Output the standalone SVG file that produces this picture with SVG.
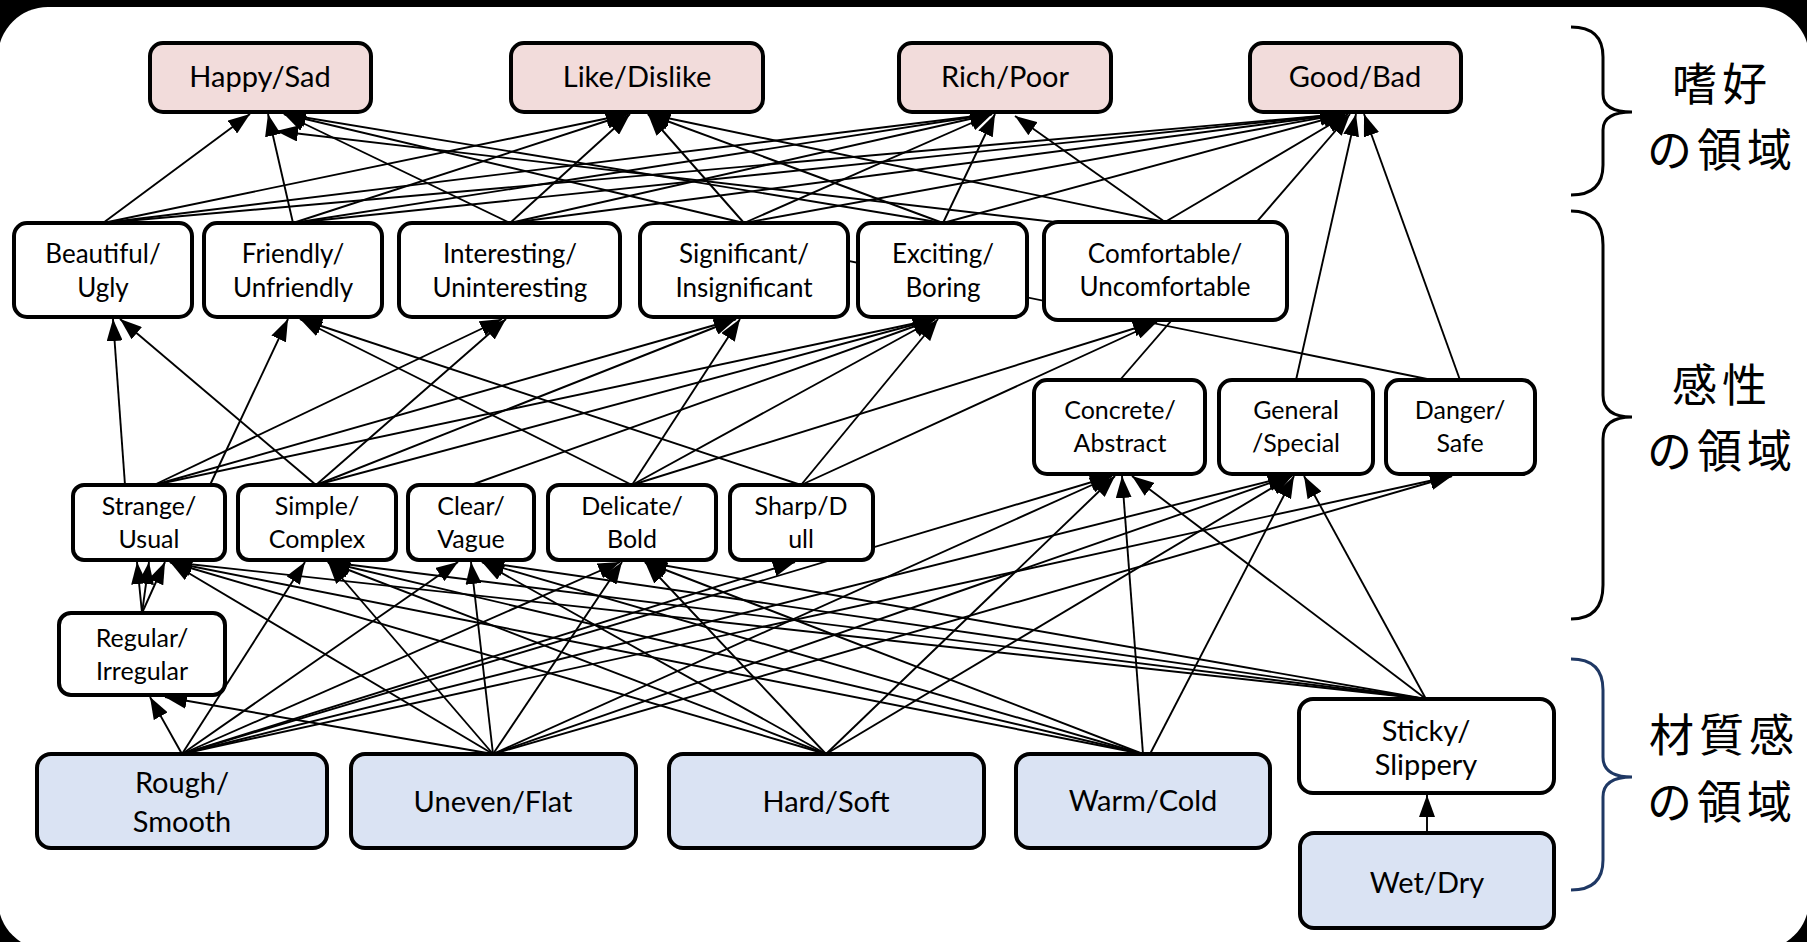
<svg xmlns="http://www.w3.org/2000/svg" width="1807" height="942" viewBox="0 0 1807 942">
<style>
.box{stroke:#000;stroke-width:4;fill:#fff}
.pink{fill:#F2DCDB}
.blue{fill:#DAE3F3}
.t{font-family:Lato,'Liberation Sans',sans-serif;fill:#000;text-anchor:middle}
.t1{font-size:29px}
.t2{font-size:26px}
.t3{font-size:25px}
.t4{font-size:29px}
.cj{font-family:'Noto Sans CJK JP',sans-serif;font-size:45px;letter-spacing:5px;fill:#000;text-anchor:middle}
#edges line{stroke:#000;stroke-width:1.9;marker-end:url(#ah)}
#edges line.plain{marker-end:none}
.brace{fill:none;stroke:#000;stroke-width:3}
</style>
<defs>
<marker id="ah" markerUnits="userSpaceOnUse" markerWidth="22" markerHeight="16" refX="22" refY="8" orient="auto">
<path d="M0,0 L22,8 L0,16 Z" fill="#000"/>
</marker>
</defs>
<rect x="0" y="0" width="1807" height="942" fill="#000"/>
<rect x="-2" y="7" width="1811" height="943" rx="50" fill="#fff"/>

<g id="edges">
<line x1="103" y1="223" x2="250" y2="114"/>
<line x1="103" y1="223" x2="628" y2="114"/>
<line x1="103" y1="223" x2="992" y2="114"/>
<line x1="103" y1="223" x2="1342" y2="114"/>
<line x1="293" y1="223" x2="268" y2="114"/>
<line x1="293" y1="223" x2="628" y2="114"/>
<line x1="293" y1="223" x2="992" y2="114"/>
<line x1="293" y1="223" x2="1342" y2="114"/>
<line x1="510" y1="223" x2="284" y2="114"/>
<line x1="510" y1="223" x2="630" y2="114"/>
<line x1="510" y1="223" x2="992" y2="114"/>
<line x1="510" y1="223" x2="1342" y2="114"/>
<line x1="744" y1="223" x2="284" y2="114"/>
<line x1="744" y1="223" x2="648" y2="114"/>
<line x1="744" y1="223" x2="992" y2="114"/>
<line x1="744" y1="223" x2="1342" y2="114"/>
<line x1="943" y1="223" x2="284" y2="114"/>
<line x1="943" y1="223" x2="648" y2="114"/>
<line x1="943" y1="223" x2="995" y2="114"/>
<line x1="943" y1="223" x2="1345" y2="114"/>
<line x1="1055" y1="222" x2="276" y2="131"/>
<line x1="1165" y1="222" x2="648" y2="114"/>
<line x1="1165" y1="222" x2="1015" y2="116"/>
<line x1="1165" y1="222" x2="1348" y2="114"/>
<line x1="1120" y1="380" x2="1350" y2="114"/>
<line x1="1296" y1="380" x2="1356" y2="114"/>
<line x1="1460" y1="380" x2="1364" y2="114"/>
<line class="plain" x1="1432" y1="380" x2="790" y2="249"/>
<line x1="125" y1="485" x2="113" y2="319"/>
<line x1="316" y1="485" x2="120" y2="319"/>
<line x1="210" y1="485" x2="288" y2="319"/>
<line x1="632" y1="485" x2="300" y2="319"/>
<line x1="801" y1="485" x2="300" y2="319"/>
<line x1="154" y1="485" x2="502" y2="319"/>
<line x1="316" y1="485" x2="506" y2="319"/>
<line x1="154" y1="485" x2="736" y2="319"/>
<line x1="316" y1="485" x2="736" y2="319"/>
<line x1="632" y1="485" x2="740" y2="319"/>
<line x1="154" y1="485" x2="935" y2="319"/>
<line x1="316" y1="485" x2="935" y2="319"/>
<line x1="471" y1="485" x2="935" y2="319"/>
<line x1="632" y1="485" x2="935" y2="319"/>
<line x1="801" y1="485" x2="938" y2="319"/>
<line x1="632" y1="485" x2="1155" y2="322"/>
<line x1="801" y1="485" x2="1157" y2="322"/>
<line x1="142" y1="613" x2="137" y2="562"/>
<line x1="142" y1="613" x2="149" y2="562"/>
<line x1="142" y1="613" x2="165" y2="562"/>
<line x1="182" y1="754" x2="150" y2="697"/>
<line x1="493" y1="754" x2="165" y2="697"/>
<line x1="182" y1="754" x2="305" y2="562"/>
<line x1="182" y1="754" x2="458" y2="562"/>
<line x1="182" y1="754" x2="620" y2="562"/>
<line x1="182" y1="754" x2="795" y2="562"/>
<line x1="182" y1="754" x2="1112" y2="476"/>
<line x1="182" y1="754" x2="1290" y2="476"/>
<line x1="182" y1="754" x2="1452" y2="476"/>
<line x1="493" y1="754" x2="170" y2="562"/>
<line x1="493" y1="754" x2="328" y2="562"/>
<line x1="493" y1="754" x2="471" y2="562"/>
<line x1="493" y1="754" x2="622" y2="562"/>
<line x1="493" y1="754" x2="1112" y2="476"/>
<line x1="493" y1="754" x2="1290" y2="476"/>
<line x1="493" y1="754" x2="1452" y2="476"/>
<line x1="826" y1="754" x2="170" y2="562"/>
<line x1="826" y1="754" x2="328" y2="562"/>
<line x1="826" y1="754" x2="482" y2="562"/>
<line x1="826" y1="754" x2="645" y2="562"/>
<line x1="826" y1="754" x2="1115" y2="476"/>
<line x1="826" y1="754" x2="1292" y2="476"/>
<line x1="1143" y1="754" x2="170" y2="562"/>
<line x1="1143" y1="754" x2="328" y2="562"/>
<line x1="1143" y1="754" x2="482" y2="562"/>
<line x1="1143" y1="754" x2="645" y2="562"/>
<line x1="1143" y1="754" x2="1122" y2="476"/>
<line x1="1150" y1="754" x2="1294" y2="476"/>
<line x1="1426" y1="699" x2="170" y2="562"/>
<line x1="1426" y1="699" x2="328" y2="562"/>
<line x1="1426" y1="699" x2="482" y2="562"/>
<line x1="1426" y1="699" x2="645" y2="562"/>
<line x1="1426" y1="699" x2="1132" y2="476"/>
<line x1="1426" y1="699" x2="1304" y2="476"/>
<line x1="1427" y1="833" x2="1427" y2="795"/>
</g>

<g id="happy"><rect class="box pink" x="150" y="43" width="221" height="69" rx="13"/><text class="t t1" x="260" y="87">Happy/Sad</text></g>
<g id="like"><rect class="box pink" x="511" y="43" width="252" height="69" rx="13"/><text class="t t1" x="637" y="87">Like/Dislike</text></g>
<g id="rich"><rect class="box pink" x="899" y="43" width="212" height="69" rx="13"/><text class="t t1" x="1005" y="87">Rich/Poor</text></g>
<g id="good"><rect class="box pink" x="1250" y="43" width="211" height="69" rx="13"/><text class="t t1" x="1355" y="87">Good/Bad</text></g>

<g id="beautiful"><rect class="box" x="14" y="223" width="178" height="94" rx="13"/><text class="t t2" x="103" y="263">Beautiful/</text><text class="t t2" x="103" y="297">Ugly</text></g>
<g id="friendly"><rect class="box" x="204" y="223" width="178" height="94" rx="13"/><text class="t t2" x="293" y="263">Friendly/</text><text class="t t2" x="293" y="297">Unfriendly</text></g>
<g id="interesting"><rect class="box" x="399" y="223" width="221" height="94" rx="13"/><text class="t t2" x="510" y="263">Interesting/</text><text class="t t2" x="510" y="297">Uninteresting</text></g>
<g id="significant"><rect class="box" x="640" y="223" width="208" height="94" rx="13"/><text class="t t2" x="744" y="263">Significant/</text><text class="t t2" x="744" y="297">Insignificant</text></g>
<g id="exciting"><rect class="box" x="858" y="223" width="169" height="94" rx="13"/><text class="t t2" x="943" y="263">Exciting/</text><text class="t t2" x="943" y="297">Boring</text></g>
<g id="comfortable"><rect class="box" x="1044" y="222" width="243" height="98" rx="14"/><text class="t t2" x="1165" y="263">Comfortable/</text><text class="t t2" x="1165" y="296">Uncomfortable</text></g>

<g id="concrete"><rect class="box" x="1034" y="380" width="171" height="94" rx="13"/><text class="t t3" x="1120" y="419">Concrete/</text><text class="t t3" x="1120" y="452">Abstract</text></g>
<g id="general"><rect class="box" x="1219" y="380" width="154" height="94" rx="13"/><text class="t t3" x="1296" y="419">General</text><text class="t t3" x="1296" y="452">/Special</text></g>
<g id="danger"><rect class="box" x="1386" y="380" width="149" height="94" rx="13"/><text class="t t3" x="1460" y="419">Danger/</text><text class="t t3" x="1460" y="452">Safe</text></g>

<g id="strange"><rect class="box" x="73" y="485" width="152" height="75" rx="11"/><text class="t t3" x="149" y="515">Strange/</text><text class="t t3" x="149" y="548">Usual</text></g>
<g id="simple"><rect class="box" x="238" y="485" width="158" height="75" rx="11"/><text class="t t3" x="317" y="515">Simple/</text><text class="t t3" x="317" y="548">Complex</text></g>
<g id="clear"><rect class="box" x="408" y="485" width="126" height="75" rx="11"/><text class="t t3" x="471" y="515">Clear/</text><text class="t t3" x="471" y="548">Vague</text></g>
<g id="delicate"><rect class="box" x="548" y="485" width="168" height="75" rx="11"/><text class="t t3" x="632" y="515">Delicate/</text><text class="t t3" x="632" y="548">Bold</text></g>
<g id="sharp"><rect class="box" x="730" y="485" width="143" height="75" rx="11"/><text class="t t3" x="801" y="515">Sharp/D</text><text class="t t3" x="801" y="548">ull</text></g>

<g id="regular"><rect class="box" x="59" y="613" width="166" height="82" rx="12"/><text class="t t3" x="142" y="647">Regular/</text><text class="t t3" x="142" y="680">Irregular</text></g>

<g id="rough"><rect class="box blue" x="37" y="754" width="290" height="94" rx="14"/><text class="t t4" x="182" y="793">Rough/</text><text class="t t4" x="182" y="832">Smooth</text></g>
<g id="uneven"><rect class="box blue" x="351" y="754" width="285" height="94" rx="14"/><text class="t t4" x="493" y="812">Uneven/Flat</text></g>
<g id="hard"><rect class="box blue" x="669" y="754" width="315" height="94" rx="14"/><text class="t t4" x="826" y="812">Hard/Soft</text></g>
<g id="warm"><rect class="box blue" x="1016" y="754" width="254" height="94" rx="14"/><text class="t t4" x="1143" y="811">Warm/Cold</text></g>
<g id="sticky"><rect class="box" x="1299" y="699" width="255" height="94" rx="14"/><text class="t t4" x="1426" y="741">Sticky/</text><text class="t t4" x="1426" y="775">Slippery</text></g>
<g id="wet"><rect class="box blue" x="1300" y="833" width="254" height="95" rx="14"/><text class="t t4" x="1427" y="893">Wet/Dry</text></g>

<g id="domains">
<path class="brace" d="M1571,27 Q1603,27 1603,57 L1603,94 Q1603,112 1632,112 Q1603,112 1603,130 L1603,165 Q1603,195 1571,195"/>
<path class="brace" d="M1571,211 Q1603,211 1603,245 L1603,395 Q1603,417 1632,417 Q1603,417 1603,439 L1603,585 Q1603,619 1571,619"/>
<path class="brace" style="stroke:#1F3864" d="M1571,659 Q1603,659 1603,690 L1603,757 Q1603,777 1632,777 Q1603,777 1603,797 L1603,860 Q1603,890 1571,890"/>
<text class="cj"><tspan x="1722" y="101">嗜好</tspan><tspan x="1722" y="167">の領域</tspan></text>
<text class="cj"><tspan x="1722" y="402">感性</tspan><tspan x="1722" y="468">の領域</tspan></text>
<text class="cj"><tspan x="1724" y="752">材質感</tspan><tspan x="1722" y="819">の領域</tspan></text>
</g>
</svg>
